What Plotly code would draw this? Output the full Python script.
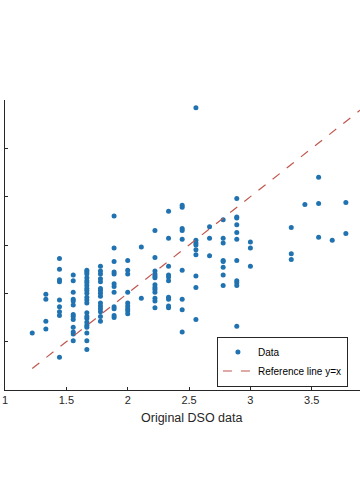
import plotly.graph_objects as go

# Original DSO values (x columns) and the estimated values at each column
x_columns = [1.222, 1.333, 1.444, 1.556, 1.667, 1.778, 1.889, 2.0, 2.111, 2.222,
             2.333, 2.444, 2.556, 2.667, 2.778, 2.889, 3.0, 3.333, 3.444, 3.556,
             3.667, 3.778]
y_by_column = [
    [1.59],
    [1.99, 1.94, 1.71, 1.63],
    [2.36, 2.25, 2.14, 2.12, 1.93, 1.86, 1.81, 1.77, 1.34],
    [2.19, 2.13, 2.01, 1.94, 1.92, 1.88, 1.78, 1.76, 1.73, 1.65, 1.60, 1.58, 1.51],
    [2.24, 2.22, 2.20, 2.16, 2.13, 2.11, 2.08, 2.05, 2.03, 2.00, 1.96, 1.93, 1.90,
     1.80, 1.76, 1.74, 1.70, 1.67, 1.65, 1.59, 1.51, 1.42],
    [2.28, 2.23, 2.20, 2.15, 2.12, 2.05, 2.03, 2.00, 1.97, 1.90, 1.87, 1.84, 1.81,
     1.76, 1.71],
    [2.80, 2.47, 2.33, 2.22, 2.20, 2.10, 2.07, 2.01, 1.86, 1.84, 1.77, 1.75],
    [2.34, 2.24, 2.20, 2.01, 1.90, 1.87, 1.84, 1.82, 1.79],
    [2.48, 1.95],
    [2.65, 2.37, 2.23, 2.20, 2.18, 2.16, 2.09, 2.06, 2.04, 2.01, 1.95, 1.92, 1.85],
    [2.85, 2.57, 2.28, 2.19, 2.17, 2.13, 1.96, 1.94, 1.87, 1.85],
    [2.91, 2.89, 2.67, 2.65, 2.56, 2.24, 1.94, 1.83, 1.60],
    [3.92, 2.55, 2.52, 2.50, 2.45, 2.40, 2.18, 2.06, 1.73],
    [2.69, 2.57, 2.39],
    [2.76, 2.57, 2.52, 2.34, 2.33, 2.27, 2.19, 2.08],
    [2.98, 2.79, 2.78, 2.71, 2.63, 2.56, 2.34, 2.13, 2.11, 2.08, 1.66],
    [2.53, 2.47, 2.28],
    [2.68, 2.41, 2.35],
    [2.92],
    [3.20, 2.93, 2.58],
    [2.55],
    [2.94, 2.62],
]
ref_line = [1.222, 4.0]
x_ticks = [1, 1.5, 2, 2.5, 3, 3.5]
x_tick_labels = ["1", "1.5", "2", "2.5", "3", "3.5"]
y_ticks = [1, 1.5, 2, 2.5, 3, 3.5, 4]

xs, ys = [], []
for xc, vals in zip(x_columns, y_by_column):
    for v in vals:
        xs.append(xc)
        ys.append(v)

axis_col = "#262626"
fig = go.Figure()
fig.add_trace(go.Scatter(
    x=xs, y=ys, mode="markers", name="Data",
    marker=dict(color="#2073b0", size=5, line=dict(width=0)),
))
fig.add_trace(go.Scatter(
    x=ref_line, y=ref_line, mode="lines", name="Reference line y=x",
    line=dict(color="#c0574e", width=1.2, dash="dash"),
))

fig.update_layout(
    width=360, height=504,
    margin=dict(l=5, r=0, t=100, b=114),
    paper_bgcolor="white", plot_bgcolor="white",
    font=dict(family="Liberation Sans, Arial, sans-serif", size=11, color=axis_col),
    showlegend=True,
    legend=dict(
        x=0.597, y=0.012, xanchor="left", yanchor="bottom",
        bgcolor="white", bordercolor=axis_col, borderwidth=1,
        font=dict(size=10, color="#000000"),
        itemwidth=30, tracegroupgap=0,
    ),
    annotations=[dict(
        text="Original DSO data", xref="paper", yref="paper",
        x=0.524, y=-0.097, xanchor="center", yanchor="middle",
        showarrow=False, font=dict(size=12.5, color=axis_col),
    )],
)
fig.update_xaxes(
    range=[1, 1 + 355 / 122.7], tickvals=x_ticks, ticktext=x_tick_labels,
    showgrid=False, zeroline=False, showline=True, linecolor=axis_col, linewidth=1,
    ticks="inside", ticklen=3, tickcolor=axis_col, tickfont=dict(size=11),
)
fig.update_yaxes(
    range=[1, 4], tickvals=y_ticks, showticklabels=False,
    showgrid=False, zeroline=False, showline=True, linecolor=axis_col, linewidth=1,
    ticks="inside", ticklen=3, tickcolor=axis_col,
)

fig.write_html("out.html", config={"displayModeBar": False},
               post_script="document.body.style.margin='0';")
